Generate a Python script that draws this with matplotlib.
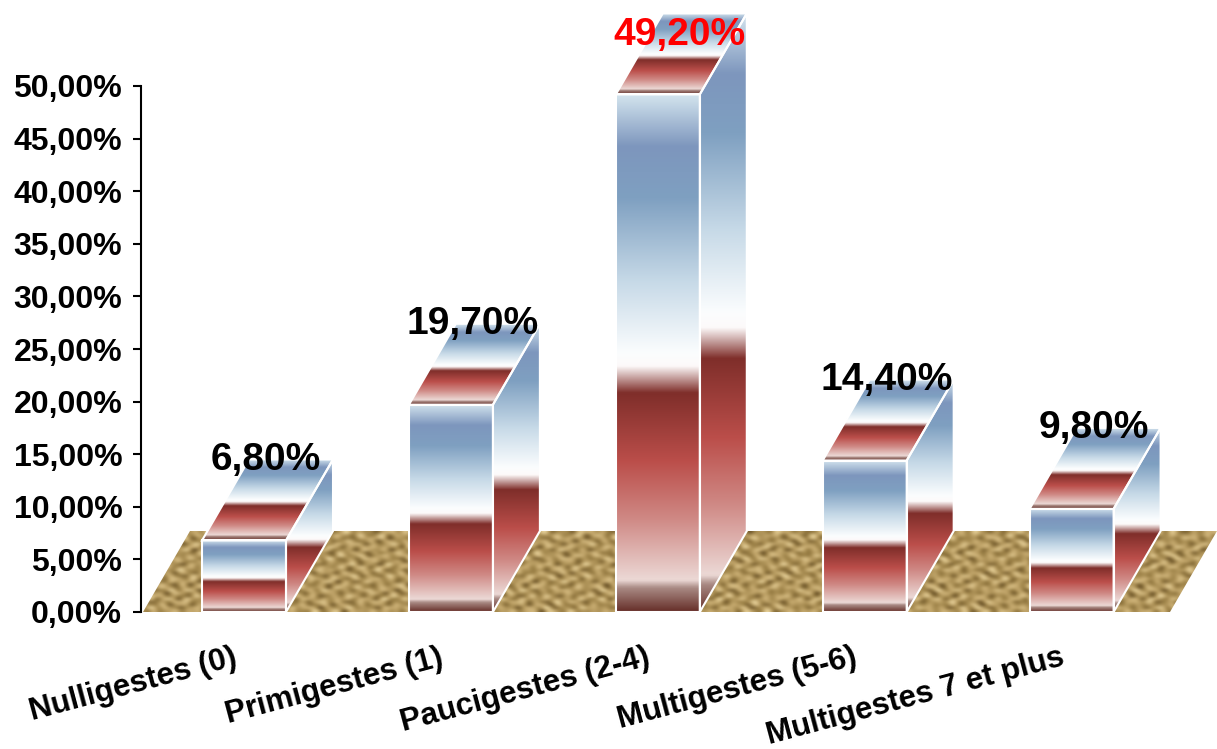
import numpy as np
import matplotlib
matplotlib.use('Agg')
import matplotlib.pyplot as plt
from matplotlib.colors import LinearSegmentedColormap
from matplotlib.patches import Polygon

categories = ['Nulligestes (0)', 'Primigestes (1)', 'Paucigestes (2-4)', 'Multigestes (5-6)', 'Multigestes 7 et plus']
values = [6.8, 19.7, 49.2, 14.4, 9.8]
value_labels = ['6,80%', '19,70%', '49,20%', '14,40%', '9,80%']
label_colors = ['black', 'black', 'red', 'black', 'black']
yticks = [0, 5, 10, 15, 20, 25, 30, 35, 40, 45, 50]
ytick_labels = ['0,00%', '5,00%', '10,00%', '15,00%', '20,00%', '25,00%', '30,00%', '35,00%', '40,00%', '45,00%', '50,00%']

# pixel scale of the axes
PX_X = 206.9
PX_Y = 10.52
BAR_W = 84 / PX_X
DX = 47 / PX_X
DY = 81 / PX_Y

bar_cmap = LinearSegmentedColormap.from_list('bar', [
    (0.0, '#d3e4ee'), (0.10, '#7d96bd'), (0.20, '#7fa0c1'), (0.36, '#c6d9e7'),
    (0.50, '#fbfdfe'), (0.525, '#fdfafa'), (0.577, '#7f2e2a'), (0.71, '#bb4e4a'),
    (0.82, '#cf8884'), (0.94, '#ecd9d6'), (0.955, '#a98a84'), (1.0, '#67302a'),
])
floor_cmap = LinearSegmentedColormap.from_list('floor', ['#5e4720', '#9a7f45', '#c9ad72', '#ecd8a2'])


def draw_face(ax, pts, zorder=2):
    pts = np.array(pts)
    grad = np.linspace(0, 1, 256)[:, None]
    im = ax.imshow(grad, cmap=bar_cmap, vmin=0, vmax=1, aspect='auto', interpolation='bilinear',
                   extent=[pts[:, 0].min(), pts[:, 0].max(), pts[:, 1].min(), pts[:, 1].max()], zorder=zorder)
    im.set_clip_path(Polygon(pts, transform=ax.transData))
    ax.add_patch(Polygon(pts, closed=True, fill=False, edgecolor='white', linewidth=1.5, zorder=zorder + 0.1))


def draw_floor(ax, pts):
    pts = np.array(pts)
    xx, yy = np.meshgrid(np.arange(380), np.arange(28))
    tex = (np.sin(xx * 0.9 + 2.3 * np.sin(yy * 1.1)) + np.sin(yy * 1.7 + 1.9 * np.sin(xx * 0.37))
           + 0.9 * np.sin(xx * 0.23 + yy * 0.61) * np.sin(xx * 1.3 - yy * 0.9))
    im = ax.imshow(tex, cmap=floor_cmap, aspect='auto', interpolation='bicubic',
                   extent=[pts[:, 0].min(), pts[:, 0].max(), pts[:, 1].min(), pts[:, 1].max()], zorder=1)
    im.set_clip_path(Polygon(pts, transform=ax.transData))


plt.rcParams['font.family'] = ['Liberation Sans', 'DejaVu Sans']
plt.rcParams['font.weight'] = 'bold'

fig = plt.figure(figsize=(12.17, 7.49), dpi=100)
ax = fig.add_axes([141 / 1217, 137 / 749, 1076 / 1217, 612 / 749])

x_left = (141 - 244) / PX_X
x_right = (1217 - 244) / PX_X

draw_floor(ax, [(x_left + 2 / PX_X, 0), (x_left + 2 / PX_X + DX, DY), (x_right, DY), (x_right - DX, 0)])

for i, val in enumerate(values):
    x0 = i - BAR_W / 2
    x1 = i + BAR_W / 2
    draw_face(ax, [(x0, 0), (x1, 0), (x1, val), (x0, val)])
    draw_face(ax, [(x0, val), (x1, val), (x1 + DX, val + DY), (x0 + DX, val + DY)])
    draw_face(ax, [(x1, 0), (x1 + DX, DY), (x1 + DX, val + DY), (x1, val)])
    ax.text(i + 22 / PX_X, min(val + 7.65, 54.85), value_labels[i], color=label_colors[i], fontsize=28,
            fontweight='bold', ha='center', va='center', zorder=5)

ax.set_xlim(x_left, x_right)
ax.set_ylim(0, 612 / PX_Y)

for side in ['top', 'right', 'bottom']:
    ax.spines[side].set_visible(False)
ax.spines['left'].set_bounds(0, 50)
ax.spines['left'].set_linewidth(1.5)

ax.set_yticks(yticks)
ax.set_yticklabels(ytick_labels, fontsize=23, fontweight='bold')
ax.tick_params(axis='y', length=6, width=1.5, pad=7.5)

# labels end a little left of the bar centres
ax.set_xticks(np.arange(len(categories)) - 12 / PX_X)
ax.set_xticklabels(categories, fontsize=22.5, fontweight='bold', rotation=15, ha='right', rotation_mode='anchor')
ax.tick_params(axis='x', length=0, pad=22)

fig.savefig('out.png', dpi=100)
